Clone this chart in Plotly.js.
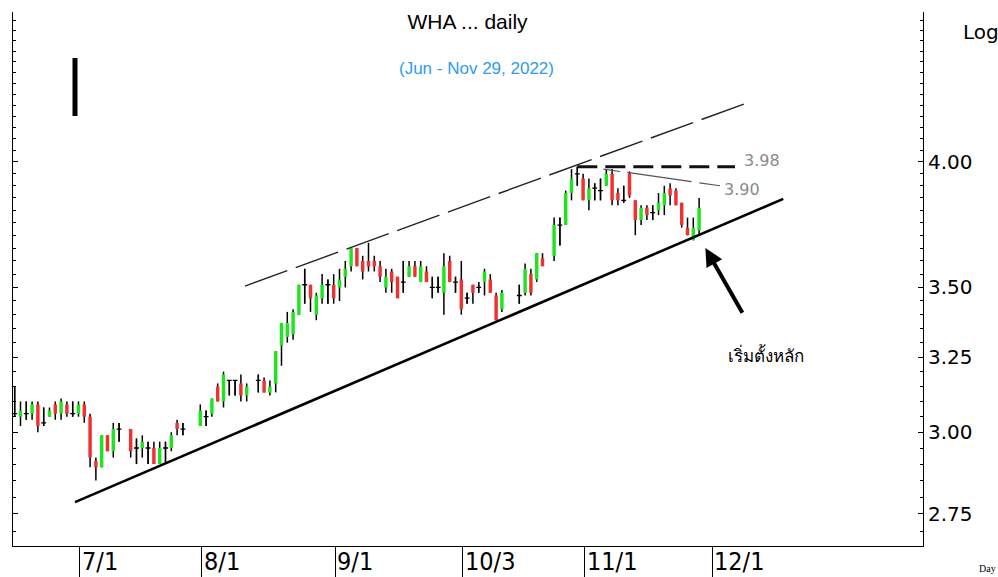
<!DOCTYPE html>
<html><head><meta charset="utf-8">
<script src="https://cdn.plot.ly/plotly-3.0.1.min.js"></script>
<style>html,body{margin:0;padding:0;background:#fff}#chart{width:998px;height:577px}</style>
</head><body><div id="chart"></div>
<script>
// ---- data (WHA daily, Jun 16 - Nov 29, 2022) ----
const dates = [
'2022-06-16','2022-06-17','2022-06-20','2022-06-21','2022-06-22','2022-06-23','2022-06-24','2022-06-27','2022-06-28','2022-06-29','2022-06-30',
'2022-07-01','2022-07-04','2022-07-05','2022-07-06','2022-07-07','2022-07-08','2022-07-11','2022-07-12','2022-07-14','2022-07-15','2022-07-18','2022-07-19','2022-07-20','2022-07-21','2022-07-22','2022-07-25','2022-07-26','2022-07-27',
'2022-08-01','2022-08-02','2022-08-03','2022-08-04','2022-08-05','2022-08-08','2022-08-09','2022-08-10','2022-08-11','2022-08-15','2022-08-16','2022-08-17','2022-08-18','2022-08-19','2022-08-22','2022-08-23','2022-08-24','2022-08-25','2022-08-26','2022-08-29','2022-08-30','2022-08-31',
'2022-09-01','2022-09-02','2022-09-05','2022-09-06','2022-09-07','2022-09-08','2022-09-09','2022-09-12','2022-09-13','2022-09-14','2022-09-15','2022-09-16','2022-09-19','2022-09-20','2022-09-21','2022-09-22','2022-09-23','2022-09-26','2022-09-27','2022-09-28','2022-09-29','2022-09-30',
'2022-10-03','2022-10-04','2022-10-05','2022-10-06','2022-10-07','2022-10-10','2022-10-11','2022-10-12','2022-10-17','2022-10-18','2022-10-19','2022-10-20','2022-10-21','2022-10-25','2022-10-26','2022-10-27','2022-10-28','2022-10-31',
'2022-11-01','2022-11-02','2022-11-03','2022-11-04','2022-11-07','2022-11-08','2022-11-09','2022-11-10','2022-11-11','2022-11-14','2022-11-15','2022-11-16','2022-11-17','2022-11-18','2022-11-21','2022-11-22','2022-11-23','2022-11-24','2022-11-25','2022-11-28','2022-11-29'
];
const open = [
3.06,3.05,3.06,3.06,3.09,3.03,3.05,3.09,3.06,3.09,3.06,
3.06,3.09,3.05,2.91,2.89,2.99,2.94,3.01,3.01,2.95,2.95,2.95,2.95,2.90,2.95,2.95,3.03,3.01,
3.02,3.05,3.06,3.15,3.10,3.17,3.17,3.16,3.12,3.17,3.17,3.13,3.16,3.29,3.32,3.33,3.40,3.51,3.51,3.40,3.46,3.51,
3.51,3.50,3.54,3.58,3.65,3.60,3.60,3.60,3.58,3.50,3.56,3.54,3.52,3.54,3.58,3.52,3.56,3.50,3.50,3.48,3.60,3.52,
3.53,3.46,3.51,3.50,3.52,3.53,3.47,3.42,3.47,3.48,3.55,3.53,3.61,3.62,3.74,3.74,3.87,3.95,
3.93,3.84,3.89,3.88,3.90,3.95,3.87,3.84,3.95,3.84,3.76,3.81,3.79,3.80,3.82,3.89,3.88,3.83,3.73,3.68,3.72
];
const high = [
3.15,3.10,3.10,3.10,3.10,3.08,3.08,3.10,3.11,3.10,3.10,
3.10,3.10,3.06,2.92,2.99,2.99,3.03,3.03,3.01,2.98,2.99,2.97,2.97,2.97,2.97,3.00,3.04,3.03,
3.09,3.07,3.11,3.16,3.20,3.17,3.17,3.19,3.16,3.19,3.18,3.17,3.27,3.37,3.41,3.42,3.51,3.57,3.51,3.48,3.55,3.53,
3.55,3.57,3.60,3.65,3.65,3.62,3.67,3.62,3.60,3.57,3.57,3.54,3.60,3.60,3.60,3.60,3.58,3.54,3.54,3.63,3.62,3.54,
3.60,3.48,3.51,3.52,3.57,3.55,3.48,3.49,3.51,3.59,3.57,3.63,3.63,3.77,3.77,3.88,3.97,3.98,
3.95,3.93,3.91,3.93,3.97,3.97,3.89,3.90,3.96,3.84,3.82,3.82,3.82,3.87,3.90,3.91,3.89,3.83,3.77,3.77,3.85
];
const low = [
3.05,3.02,3.04,3.04,3.00,3.02,3.05,3.04,3.04,3.05,3.05,
3.05,3.03,2.89,2.85,2.89,2.94,2.92,2.97,2.92,2.90,2.92,2.90,2.90,2.90,2.90,2.94,2.99,2.99,
3.02,3.02,3.05,3.10,3.08,3.12,3.12,3.10,3.10,3.13,3.13,3.12,3.13,3.22,3.30,3.31,3.40,3.44,3.41,3.38,3.44,3.44,
3.44,3.45,3.50,3.56,3.58,3.53,3.56,3.56,3.52,3.48,3.48,3.46,3.48,3.54,3.54,3.52,3.52,3.46,3.48,3.40,3.52,3.48,
3.40,3.44,3.44,3.48,3.47,3.48,3.38,3.41,3.44,3.47,3.47,3.52,3.58,3.60,3.66,3.74,3.84,3.90,
3.84,3.80,3.84,3.84,3.90,3.82,3.82,3.83,3.85,3.70,3.74,3.76,3.76,3.78,3.78,3.82,3.82,3.73,3.70,3.68,3.70
];
const close = [
3.06,3.07,3.06,3.09,3.02,3.03,3.07,3.06,3.10,3.06,3.06,
3.09,3.05,2.92,2.89,2.99,2.94,3.01,3.01,2.94,2.95,2.97,2.95,2.90,2.95,2.95,2.99,3.01,3.01,
3.07,3.05,3.11,3.10,3.19,3.17,3.17,3.12,3.15,3.17,3.13,3.15,3.27,3.37,3.37,3.41,3.51,3.51,3.46,3.47,3.51,3.51,
3.46,3.53,3.57,3.65,3.58,3.56,3.58,3.58,3.54,3.54,3.52,3.46,3.52,3.58,3.54,3.58,3.52,3.50,3.50,3.58,3.52,3.52,
3.42,3.46,3.48,3.50,3.56,3.48,3.38,3.48,3.47,3.57,3.48,3.63,3.58,3.74,3.74,3.87,3.93,3.95,
3.84,3.89,3.89,3.88,3.95,3.84,3.84,3.84,3.86,3.76,3.81,3.78,3.79,3.83,3.87,3.86,3.82,3.74,3.70,3.73,3.81
];
const xTickDates  = ['2022-07-01','2022-08-01','2022-09-01','2022-10-03','2022-11-01','2022-12-01'];
const xTickLabels = ['7/1','8/1','9/1','10/3','11/1','12/1'];
const yTickVals   = [2.75, 3.00, 3.25, 3.50, 4.00];
const yTickLabels = ['2.75','3.00','3.25','3.50','4.00'];
// drawn trend lines (date, price)
const supportLine = {x:['2022-06-30 21:36','2022-12-20 00:17'], y:[2.785, 3.846]};
const channelLine = {x:['2022-08-11 05:02','2022-12-12 14:53'], y:[3.505, 4.268]};
const resistLine  = {x:['2022-10-31 12:00','2022-12-07 16:34'], y:[3.98, 3.98]};
const slopeLine   = {x:['2022-11-07 00:00','2022-12-05 02:24'], y:[3.97, 3.90]};
const levelLabels = ['3.98','3.90'];
const noteText = 'เริ่มตั้งหลัก';
const arrowTip = {x:'2022-11-30 14:00', y:3.65};

// ---- helpers ----
const W = 998, H = 577, ML = 13, MR = 75, MT = 12, MB = 31;
const PW = W - ML - MR, PH = H - MT - MB;
const px = x => (x - ML) / PW;
const py = y => (H - MB - y) / PH;
const xs = dates.map(d => d + ' 12:00');
const GREEN = '#1ee61e', RED = '#f23030';
const DAY = 86400000;

const dojiIdx = open.map((o, i) => o === close[i] ? i : -1).filter(i => i >= 0);

const minorVals = [];
for (let v = 265; v <= 470; v += 5) {
  const val = v / 100;
  if (!yTickVals.some(t => Math.abs(t - val) < 1e-9)) minorVals.push(val);
}

const traces = [
  { type:'bar', x: xs, base: low, y: high.map((h, i) => +(h - low[i]).toFixed(4)),
    width: 0.26 * DAY, marker:{color:'#000', line:{width:0}}, hoverinfo:'skip', showlegend:false },
  { type:'candlestick', x: xs, open: open, high: high, low: low, close: close,
    increasing:{line:{color:GREEN, width:0}, fillcolor:GREEN},
    decreasing:{line:{color:RED, width:0}, fillcolor:RED},
    whiskerwidth:0, hoverinfo:'skip', showlegend:false },
  { type:'ohlc', x: dojiIdx.map(i => xs[i]), open: dojiIdx.map(i => open[i]), high: dojiIdx.map(i => high[i]),
    low: dojiIdx.map(i => low[i]), close: dojiIdx.map(i => close[i]), tickwidth:0.42,
    increasing:{line:{color:'#000', width:1.3}}, decreasing:{line:{color:'#000', width:1.3}},
    hoverinfo:'skip', showlegend:false },
  { type:'scatter', mode:'lines', x: supportLine.x, y: supportLine.y, line:{color:'#000', width:2.6}, hoverinfo:'skip', showlegend:false },
  { type:'scatter', mode:'lines', x: channelLine.x, y: channelLine.y, line:{color:'#222', width:1.4, dash:'45px,9px'}, hoverinfo:'skip', showlegend:false },
  { type:'scatter', mode:'lines', x: resistLine.x, y: resistLine.y, line:{color:'#111', width:3, dash:'20px,8px'}, hoverinfo:'skip', showlegend:false },
  { type:'scatter', mode:'lines', x: slopeLine.x, y: slopeLine.y, line:{color:'#555', width:1.2, dash:'17px,7px,65px,8px,40px,8px'}, hoverinfo:'skip', showlegend:false }
];

const FONT_AX = 'DejaVu Sans, Verdana, sans-serif';
const FONT_NARROW = 'Liberation Sans Narrow, DejaVu Sans Condensed, Arial Narrow, sans-serif';

const annotations = [];
xTickDates.forEach((d, i) => annotations.push({
  x: d + ' 18:00', xref:'x', y: 0, yref:'paper', xanchor:'left', yanchor:'top', xshift: 1, yshift: 0, borderpad: 0,
  text: xTickLabels[i], showarrow:false, font:{family: FONT_NARROW, size: 25, color:'#000'}
}));
annotations.push({x: px(476.5), xref:'paper', y: py(68), yref:'paper', xanchor:'center', yanchor:'middle',
  text:'(Jun - Nov 29, 2022)', showarrow:false, font:{family:'Liberation Sans, Arial, sans-serif', size:17, color:'#2d9cf0'}});
annotations.push({x: px(961), xref:'paper', y: py(32), yref:'paper', xanchor:'left', yanchor:'middle',
  text:'Log', showarrow:false, font:{family: FONT_AX, size:20, color:'#000'}});
annotations.push({x: px(977), xref:'paper', y: py(568), yref:'paper', xanchor:'left', yanchor:'middle',
  text:'Day', showarrow:false, font:{family:'Liberation Serif, serif', size:10, color:'#000'}});
annotations.push({x: px(742), xref:'paper', y: py(160), yref:'paper', xanchor:'left', yanchor:'middle',
  text: levelLabels[0], showarrow:false, font:{family: FONT_AX, size:16, color:'#8a8a8a'}});
annotations.push({x: px(722), xref:'paper', y: py(189), yref:'paper', xanchor:'left', yanchor:'middle',
  text: levelLabels[1], showarrow:false, font:{family: FONT_AX, size:16, color:'#8a8a8a'}});
annotations.push({x: px(766), xref:'paper', y: py(355), yref:'paper', xanchor:'center', yanchor:'middle',
  text: noteText, showarrow:false, font:{family:'Noto Sans, DejaVu Sans, sans-serif', size:17, color:'#000'}});
annotations.push({x: arrowTip.x, xref:'x', y: Math.log10(arrowTip.y), yref:'y', text:' ', showarrow:true,
  arrowhead:2, arrowsize:0.9, arrowwidth:4, arrowcolor:'#000', ax:40, ay:70, standoff:0});

const layout = {
  width: W, height: H, autosize:false,
  margin:{l:ML, r:MR, t:MT, b:MB, pad:0},
  paper_bgcolor:'#fff', plot_bgcolor:'#fff',
  showlegend:false, hovermode:false, boxgap:0.15,
  title:{text:'WHA ... daily', x:467.5/W, xref:'container', xanchor:'center', y:1-22/H, yref:'container', yanchor:'middle',
    font:{family:'Liberation Sans, Arial, sans-serif', size:21, color:'#000'}},
  xaxis:{type:'date', range:['2022-06-16 05:02','2023-01-23 02:24'], rangebreaks:[{bounds:['sat','mon']}],
    showgrid:false, zeroline:false, showline:true, linecolor:'#000', linewidth:1,
    tickmode:'array', tickvals: xTickDates.map(d => d + ' 18:00'), ticktext: xTickLabels, showticklabels:false,
    ticks:'outside', ticklen:31, tickwidth:1, tickcolor:'#000', rangeslider:{visible:false}, fixedrange:true},
  yaxis:{type:'log', side:'right', range:[Math.log10(2.6578), Math.log10(4.6925)],
    showgrid:false, zeroline:false, showline:true, linecolor:'#000', linewidth:1, mirror:'ticks',
    tickmode:'array', tickvals: yTickVals, ticktext: yTickLabels, ticks:'inside', ticklen:5, tickwidth:1, tickcolor:'#000',
    tickfont:{family: FONT_AX, size:20, color:'#000'},
    minor:{tickmode:'array', tickvals: minorVals, ticks:'inside', ticklen:3, tickwidth:1, tickcolor:'#000', showgrid:false},
    fixedrange:true},
  shapes:[{type:'rect', xref:'paper', yref:'paper', x0:px(72.5), x1:px(77.5), y0:py(116), y1:py(58), fillcolor:'#000', line:{width:0}}],
  annotations: annotations
};

Plotly.newPlot('chart', traces, layout, {staticPlot:true, displayModeBar:false});
</script>
</body></html>
